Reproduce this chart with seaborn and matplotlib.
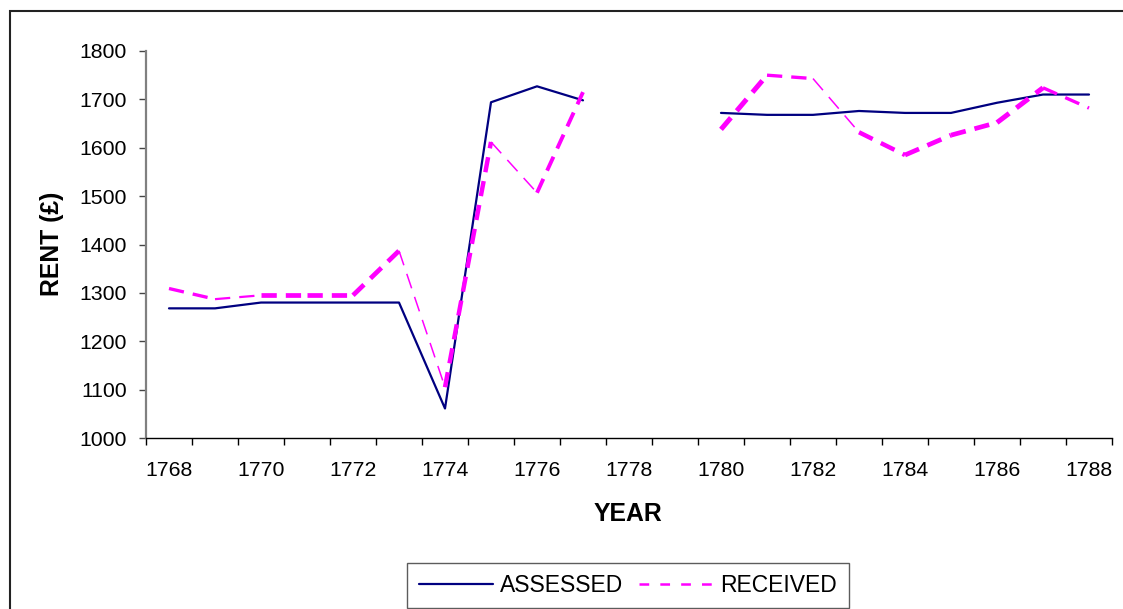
import numpy as np
import pandas as pd
import matplotlib
matplotlib.use("Agg")
import matplotlib.pyplot as plt
from matplotlib.lines import Line2D
from matplotlib.patches import Rectangle
from matplotlib.ticker import MultipleLocator, FixedLocator
import seaborn as sns

# ---- data ----
years = list(range(1768, 1789))
assessed = [1268, 1268, 1280, 1280, 1280, 1280, 1061, 1694, 1727, 1698,
            np.nan, np.nan,
            1672, 1668, 1668, 1676, 1672, 1672, 1693, 1710, 1710]
received = [1309, 1287, 1295, 1295, 1295, 1387, 1105, 1612, 1507, 1715,
            np.nan, np.nan,
            1638, 1750, 1743, 1632, 1585, 1626, 1652, 1724, 1682]
tick_years = list(range(1768, 1789, 2))
series_names = ["ASSESSED", "RECEIVED"]

# ---- style ----
sns.set_theme(style="white")
plt.rcParams['font.family'] = ['Liberation Sans', 'DejaVu Sans']
plt.rcParams['text.color'] = 'black'
plt.rcParams['lines.scale_dashes'] = False

fig = plt.figure(figsize=(11.23, 6.09), dpi=100)
W, H = 1123, 609
ax = fig.add_axes([146 / W, 1 - 438 / H, (1112 - 146) / W, (438 - 51) / H])

navy = "#000080"
magenta = "#FF00FF"

# assessed line, broken at the missing years
df_a = pd.DataFrame({"year": years, "value": assessed})
df_a["period"] = np.cumsum(df_a["value"].isna())
df_a = df_a.dropna()
sns.lineplot(data=df_a, x="year", y="value", units="period", estimator=None,
             color=navy, lw=1.6, ax=ax, legend=False)

# received line: segment-wise line widths mimic the original rendering
seg_w = [2.4, 1.6, 3.4, 3.4, 3.4, 1.1, 3.2, 1.1, 2.8, None, None, None,
         3.6, 2.4, 1.1, 3.2, 3.4, 3.4, 3.6, 2.4]
for i in range(len(years) - 1):
    yv = received[i:i + 2]
    if np.any(np.isnan(yv)):
        continue
    sns.lineplot(x=years[i:i + 2], y=yv, color=magenta, lw=seg_w[i],
                 dashes=False, ax=ax, legend=False)
    ax.lines[-1].set_dashes([11, 6.5])

ax.set_xlim(1767.5, 1788.5)
ax.set_ylim(1000, 1800)
ax.yaxis.set_major_locator(MultipleLocator(100))
ax.xaxis.set_major_locator(FixedLocator(tick_years))
ax.xaxis.set_minor_locator(FixedLocator(np.arange(1767.5, 1789, 1.0)))
ax.set_xticklabels([str(y) for y in tick_years])

ax.tick_params(axis="x", which="major", length=0, pad=16.5, labelsize=15.3,
               labelcolor="black")
ax.tick_params(axis="x", which="minor", length=5, width=1, direction="out",
               color="black", bottom=True)
ax.tick_params(axis="y", which="major", length=5, width=1, direction="out",
               color="#444444", pad=9, labelsize=15.3, labelcolor="black", left=True)

for s in ["top", "right"]:
    ax.spines[s].set_visible(False)
ax.spines["left"].set_color("#808080")
ax.spines["left"].set_linewidth(1.6)
ax.spines["bottom"].set_color("black")
ax.spines["bottom"].set_linewidth(1.0)

ax.set_xlabel("")
ax.set_ylabel("")
fig.text(628 / W, 1 - 514 / H, "YEAR", ha="center", va="center",
         fontsize=17.8, fontweight="bold", color="black")
fig.text(52 / W, 1 - 244 / H, "RENT (£)", ha="center", va="center",
         rotation=90, fontsize=17.8, fontweight="bold", color="black")

# legend
handles = [Line2D([], [], color=navy, lw=1.6),
           Line2D([], [], color=magenta, lw=1.8, dashes=[7, 8])]
leg = fig.legend(handles, series_names, loc="center",
                 bbox_to_anchor=(628 / W, 1 - 585.5 / H), ncol=2,
                 fontsize=16.5, frameon=True, fancybox=False, edgecolor="#333333",
                 handlelength=3.25, handletextpad=0.3, columnspacing=0.7,
                 borderpad=0.5, borderaxespad=0)
leg.get_frame().set_linewidth(1.0)
for t in leg.get_texts():
    t.set_color("black")

# outer chart frame (left and top edges visible)
fig.patches.append(Rectangle((10 / W, -0.2), 1.5, (609 - 11) / H + 0.2,
                             transform=fig.transFigure, fill=False,
                             edgecolor="#222222", lw=1.5))

fig.savefig("out.png", dpi=100)
